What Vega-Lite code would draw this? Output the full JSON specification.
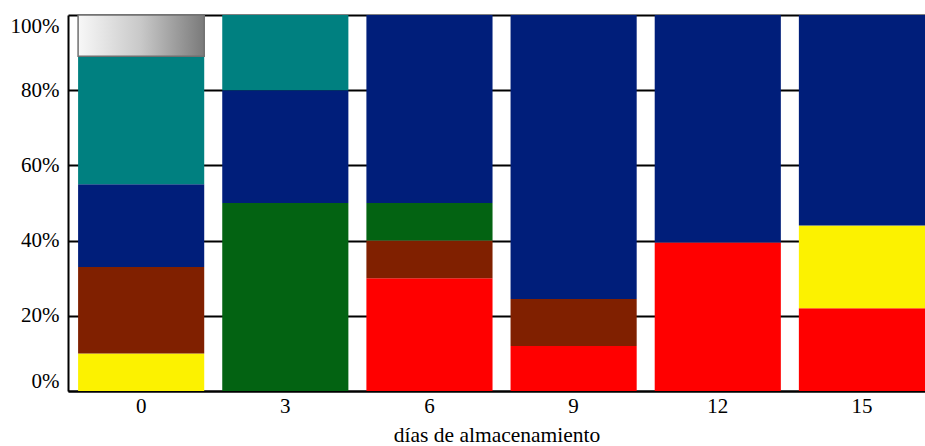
{
  "$schema": "https://vega.github.io/schema/vega-lite/v6.json",
  "width": 857,
  "height": 376,
  "autosize": {"type": "none"},
  "padding": {"left": 68, "top": 15, "right": 0, "bottom": 55},
  "background": "white",
  "config": {
    "view": {"stroke": null},
    "font": "Liberation Serif",
    "axis": {"labelFont": "Liberation Serif", "titleFont": "Liberation Serif", "labelColor": "black", "titleColor": "black"}
  },
  "data": {
    "values": [
      {"dia": "0", "grupo": "amarillo", "orden": 2, "valor": 10},
      {"dia": "0", "grupo": "marron", "orden": 3, "valor": 23},
      {"dia": "0", "grupo": "azul", "orden": 5, "valor": 22},
      {"dia": "0", "grupo": "turquesa", "orden": 6, "valor": 34},
      {"dia": "0", "grupo": "gris", "orden": 7, "valor": 11},
      {"dia": "3", "grupo": "verde", "orden": 4, "valor": 50},
      {"dia": "3", "grupo": "azul", "orden": 5, "valor": 30},
      {"dia": "3", "grupo": "turquesa", "orden": 6, "valor": 20},
      {"dia": "6", "grupo": "rojo", "orden": 1, "valor": 30},
      {"dia": "6", "grupo": "marron", "orden": 3, "valor": 10},
      {"dia": "6", "grupo": "verde", "orden": 4, "valor": 10},
      {"dia": "6", "grupo": "azul", "orden": 5, "valor": 50},
      {"dia": "9", "grupo": "rojo", "orden": 1, "valor": 12},
      {"dia": "9", "grupo": "marron", "orden": 3, "valor": 12.5},
      {"dia": "9", "grupo": "azul", "orden": 5, "valor": 75.5},
      {"dia": "12", "grupo": "rojo", "orden": 1, "valor": 39.5},
      {"dia": "12", "grupo": "azul", "orden": 5, "valor": 60.5},
      {"dia": "15", "grupo": "rojo", "orden": 1, "valor": 22},
      {"dia": "15", "grupo": "amarillo", "orden": 2, "valor": 22},
      {"dia": "15", "grupo": "azul", "orden": 5, "valor": 56}
    ]
  },
  "transform": [
    {"stack": "valor", "groupby": ["dia"], "sort": [{"field": "orden", "order": "ascending"}], "as": ["v0", "v1"]}
  ],
  "encoding": {
    "x": {
      "field": "dia",
      "type": "ordinal",
      "sort": ["0", "3", "6", "9", "12", "15"],
      "scale": {"paddingInner": 0.125, "paddingOuter": 0.035, "align": 1},
      "axis": {
        "title": "días de almacenamiento",
        "titleFontSize": 21.5,
        "titleFontWeight": "normal",
        "titlePadding": 8,
        "labelFontSize": 21,
        "labelAngle": 0,
        "labelPadding": 4,
        "ticks": false,
        "domainColor": "black",
        "domainWidth": 2
      }
    },
    "y": {
      "field": "v1",
      "type": "quantitative",
      "scale": {"domain": [0, 100], "nice": false},
      "axis": {
        "title": null,
        "values": [0, 20, 40, 60, 80, 100],
        "labelExpr": "datum.value + '%'",
        "labelFontSize": 21,
        "labelPadding": 9,
        "labelFlush": true,
        "ticks": false,
        "grid": true,
        "gridColor": "black",
        "gridWidth": 2,
        "domainColor": "black",
        "domainWidth": 2
      }
    },
    "y2": {"field": "v0"}
  },
  "layer": [
    {
      "transform": [{"filter": "datum.grupo != 'gris'"}],
      "mark": {"type": "bar"},
      "encoding": {
        "color": {
          "field": "grupo",
          "type": "nominal",
          "scale": {
            "domain": ["rojo", "amarillo", "marron", "verde", "azul", "turquesa"],
            "range": ["#ff0000", "#fcf200", "#802000", "#036312", "#001e7a", "#008080"]
          },
          "legend": null
        }
      }
    },
    {
      "transform": [{"filter": "datum.grupo == 'gris'"}],
      "mark": {
        "type": "bar",
        "stroke": "#707070",
        "strokeWidth": 1.5,
        "fill": {
          "gradient": "linear",
          "x1": 0, "y1": 0, "x2": 1, "y2": 0,
          "stops": [
            {"offset": 0, "color": "#f8f8f8"},
            {"offset": 0.5, "color": "#c8c8c8"},
            {"offset": 1, "color": "#7a7a7a"}
          ]
        }
      }
    }
  ]
}
